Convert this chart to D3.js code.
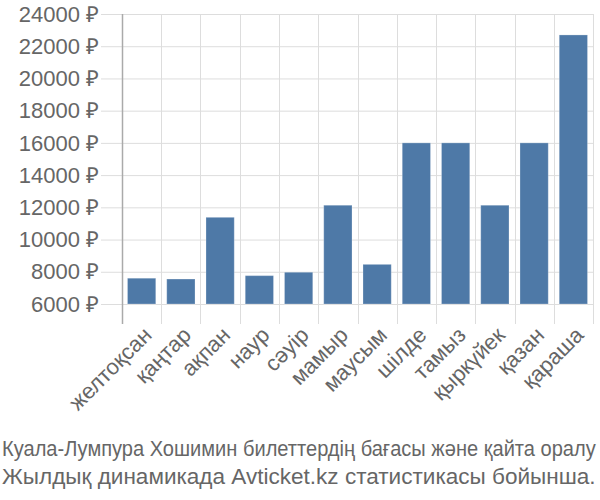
<!DOCTYPE html>
<html>
<head>
<meta charset="utf-8">
<script src="https://cdn.jsdelivr.net/npm/d3@7"></script>
<style>
  body { margin: 0; background: #fff; }
  svg text { font-family: "Liberation Sans", Arial, sans-serif; fill: #666; }
</style>
</head>
<body>
<svg id="chart" width="600" height="500"></svg>
<script>
const months = ["желтоқсан", "қаңтар", "ақпан", "наур", "сәуір", "мамыр", "маусым", "шілде", "тамыз", "қыркүйек", "қазан", "қараша"];
const prices = [7600, 7550, 11380, 7760, 7970, 12130, 8460, 16000, 16000, 12130, 16000, 22700];
const yTicks = [6000, 8000, 10000, 12000, 14000, 16000, 18000, 20000, 22000, 24000];
const captionLines = [
  "Куала-Лумпура Хошимин билеттердің бағасы және қайта оралу",
  "Жылдық динамикада Avticket.kz статистикасы бойынша."
];

const margin = { top: 14, right: 7, bottom: 196, left: 122 };
const width = 600, height = 500;

const svg = d3.select("#chart");

const x = d3.scaleBand()
  .domain(months)
  .range([margin.left, width - margin.right])
  .paddingInner(0.28)
  .paddingOuter(0.14);

const y = d3.scaleLinear()
  .domain([6000, 24000])
  .range([height - margin.bottom, margin.top]);

const plotBottom = height - margin.bottom;

// horizontal grid + labels
const yg = svg.append("g");
yg.selectAll("line")
  .data(yTicks)
  .enter().append("line")
  .attr("x1", 101)
  .attr("x2", width - margin.right)
  .attr("y1", d => y(d) + 0.5)
  .attr("y2", d => y(d) + 0.5)
  .attr("stroke", "#ddd");
yg.selectAll("text")
  .data(yTicks)
  .enter().append("text")
  .attr("x", 99)
  .attr("y", d => y(d))
  .attr("dy", "0.35em")
  .attr("text-anchor", "end")
  .style("font-size", "22px")
  .text(d => d + " ₽");

// vertical grid at band boundaries
const step = x.step();
const bounds = months.map(m => x(m) - (step - x.bandwidth()) / 2).concat([width - margin.right]);
svg.append("g").selectAll("line")
  .data(bounds.slice(1))
  .enter().append("line")
  .attr("x1", d => Math.round(d) + 0.5)
  .attr("x2", d => Math.round(d) + 0.5)
  .attr("y1", margin.top)
  .attr("y2", plotBottom + 20)
  .attr("stroke", "#ddd");

// left axis line
svg.append("line")
  .attr("x1", margin.left + 0.5)
  .attr("x2", margin.left + 0.5)
  .attr("y1", margin.top)
  .attr("y2", plotBottom + 20)
  .attr("stroke", "#aaa")
  .attr("stroke-width", 1.5);

// bars
svg.append("g").selectAll("rect")
  .data(months)
  .enter().append("rect")
  .attr("x", d => x(d))
  .attr("width", x.bandwidth())
  .attr("y", (d, i) => y(prices[i]))
  .attr("height", (d, i) => y(6000) - y(prices[i]))
  .attr("fill", "#4e79a7")
  .attr("stroke", "#fff")
  .attr("stroke-opacity", 0.25);

// x labels
svg.append("g").selectAll("text")
  .data(months)
  .enter().append("text")
  .attr("transform", d => `translate(${x(d) + x.bandwidth() / 2 + 6},${plotBottom + 27}) rotate(-45)`)
  .attr("text-anchor", "end")
  .attr("dy", "0.35em")
  .style("font-size", "22px")
  .text(d => d);

// caption, squeezed to fit the width
svg.append("g").selectAll("text")
  .data(captionLines)
  .enter().append("text")
  .style("font-size", "22px")
  .text(d => d)
  .attr("transform", function(d, i) {
    const len = this.getComputedTextLength();
    return `translate(2,${456 + i * 28}) scale(${594 / len},1)`;
  });
</script>
</body>
</html>
